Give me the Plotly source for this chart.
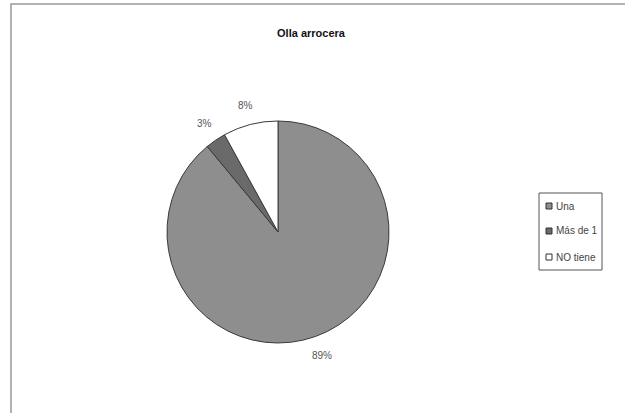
import math
import plotly.graph_objects as go

# Olla arrocera: share of households by number of rice cookers
labels = ["Una", "Más de 1", "NO tiene"]
values = [89, 3, 8]
colors = ["#8e8e8e", "#6a6a6a", "#ffffff"]

W, H = 625, 413
FONT = "Liberation Sans, Arial"

# pie geometry in pixels
cx, cy, R = 278, 232, 111
label_r = 131


def px(x):
    return x / W


def py(y):
    return 1 - y / H


fig = go.Figure(
    go.Pie(
        labels=labels,
        values=values,
        sort=False,
        direction="clockwise",
        rotation=0,
        marker=dict(colors=colors, line=dict(color="#3a3a3a", width=1)),
        textinfo="none",
        hoverinfo="label+percent",
        showlegend=False,
        domain=dict(x=[px(cx - R), px(cx + R)], y=[py(cy + R), py(cy - R)]),
    )
)

annotations = []
shapes = []

# percentage labels outside each slice, along the slice's middle angle
total = sum(values)
cum = 0
for v in values:
    mid = (cum + v / 2) / total * 2 * math.pi
    cum += v
    lx = cx + label_r * math.sin(mid)
    ly = cy - label_r * math.cos(mid)
    annotations.append(
        dict(
            x=px(lx), y=py(ly), xref="paper", yref="paper",
            text=f"{round(v / total * 100)}%", showarrow=False,
            xanchor="center", yanchor="middle",
            font=dict(family=FONT, size=10, color="#555555"),
        )
    )

# legend box
lg_x0, lg_x1, lg_y0, lg_y1 = 539, 602, 193, 270
shapes.append(
    dict(type="rect", xref="paper", yref="paper",
         x0=px(lg_x0), x1=px(lg_x1), y0=py(lg_y1), y1=py(lg_y0),
         line=dict(color="#555555", width=1), fillcolor="white", layer="below")
)
row_y = [206, 231, 257]
for name, col, yy in zip(labels, colors, row_y):
    shapes.append(
        dict(type="rect", xref="paper", yref="paper",
             x0=px(546), x1=px(552), y0=py(yy + 3), y1=py(yy - 3),
             line=dict(color="#333333", width=1), fillcolor=col)
    )
    annotations.append(
        dict(x=px(554), y=py(yy), xref="paper", yref="paper",
             text=name, showarrow=False, xanchor="left", yanchor="middle",
             font=dict(family=FONT, size=10, color="#444444"))
    )

# outer chart frame
shapes.append(
    dict(type="rect", xref="paper", yref="paper",
         x0=px(11), x1=1.02, y0=-0.02, y1=py(4),
         line=dict(color="#999999", width=1.5))
)

fig.update_layout(
    width=W,
    height=H,
    margin=dict(l=0, r=0, t=0, b=0),
    paper_bgcolor="white",
    plot_bgcolor="white",
    showlegend=False,
    title=dict(
        text="<b>Olla arrocera</b>",
        x=px(311),
        xanchor="center",
        y=py(33),
        yanchor="middle",
        font=dict(family=FONT, size=11, color="#111111"),
    ),
    annotations=annotations,
    shapes=shapes,
)

fig.write_html("out.html")
